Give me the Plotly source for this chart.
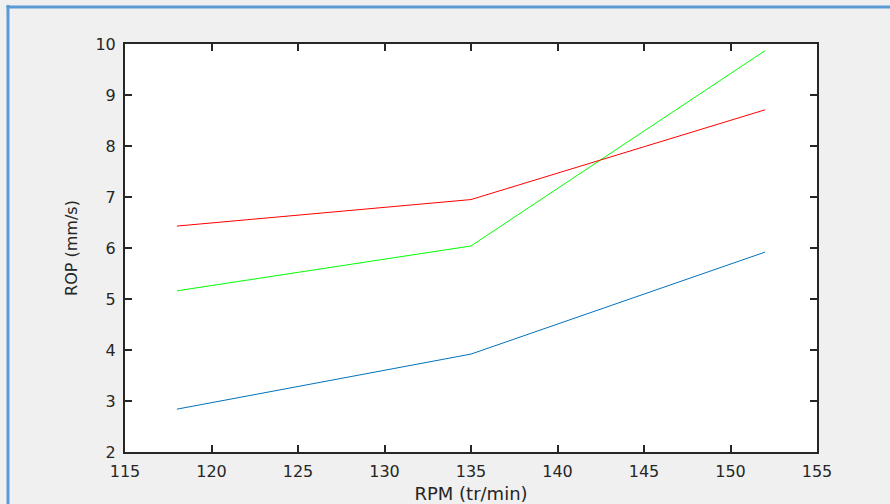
import plotly.graph_objects as go

rpm = [118, 135, 152]
rop_blue = [2.84, 3.92, 5.92]
rop_green = [5.16, 6.04, 9.87]
rop_red = [6.43, 6.95, 8.71]

x_ticks = [115, 120, 125, 130, 135, 140, 145, 150, 155]
y_ticks = [2, 3, 4, 5, 6, 7, 8, 9, 10]

fig = go.Figure()
fig.add_trace(go.Scatter(x=rpm, y=rop_blue, mode="lines", line=dict(color="#0072BD", width=1)))
fig.add_trace(go.Scatter(x=rpm, y=rop_green, mode="lines", line=dict(color="#00FF00", width=1)))
fig.add_trace(go.Scatter(x=rpm, y=rop_red, mode="lines", line=dict(color="#FF0000", width=1)))

L, R, T, B = 125, 817, 44, 452
W, H = 890, 504
def px(x):
    return (x - L) / (R - L)
def py(y):
    return (B - y) / (B - T)

FONT = "DejaVu Sans, Arial, sans-serif"
axis_common = dict(
    showline=True, linecolor="#262626", linewidth=2, mirror="ticks",
    ticks="inside", ticklen=7, tickwidth=1.5, tickcolor="#262626",
    showgrid=False, zeroline=False, automargin=False,
    tickfont=dict(family=FONT, size=16, color="#262626"),
)

fig.update_layout(
    width=W, height=H,
    margin=dict(l=L, r=W - R, t=T, b=H - B),
    paper_bgcolor="#F0F0F0", plot_bgcolor="#FFFFFF",
    showlegend=False,
    xaxis=dict(range=[115, 155], tickvals=x_ticks, ticklabelstandoff=4,
               title=dict(text="RPM (tr/min)", standoff=10,
                          font=dict(family=FONT, size=18, color="#262626")),
               **axis_common),
    yaxis=dict(range=[2, 10], tickvals=y_ticks, ticklabelstandoff=4,
               title=dict(text="ROP (mm/s)", standoff=14,
                          font=dict(family=FONT, size=16, color="#262626")),
               **axis_common),
    shapes=[
        dict(type="line", xref="paper", yref="paper", x0=px(8), x1=px(8), y0=py(5), y1=py(510),
             line=dict(color="#5B9BD5", width=3)),
        dict(type="line", xref="paper", yref="paper", x0=px(6.5), x1=px(900), y0=py(7), y1=py(7),
             line=dict(color="#5B9BD5", width=3)),
    ],
)

fig.write_html("out.html", config={"displayModeBar": False},
               post_script="document.body.style.margin='0px';")
